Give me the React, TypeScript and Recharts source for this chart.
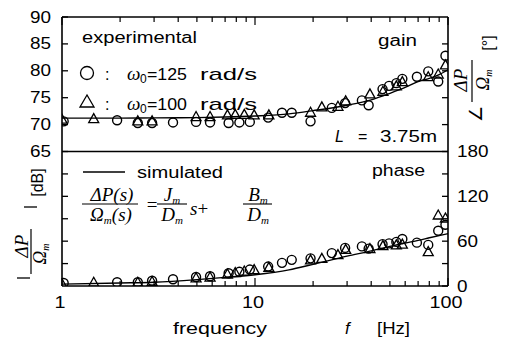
import React from 'react';
import { ComposedChart, XAxis, YAxis, Line, Scatter, ReferenceLine, Customized } from 'recharts';

const W = 501;
const H = 335;
const SANS = "'Liberation Sans', Arial, sans-serif";
const SERIF = "'Liberation Serif', 'Times New Roman', serif";

// axes
const freqTicks = [1, 2, 3, 4, 5, 6, 7, 8, 9, 10, 20, 30, 40, 50, 60, 70, 80, 90, 100];
const freqLabels = [1, 10, 100];
const gainDomain = [40, 90];
const phaseDomain = [0, 360];
const gainTickLabels = [65, 70, 75, 80, 85, 90];
const gainMinorTicks = [70, 75, 80, 85];
const phaseTickLabels = [0, 60, 120, 180];
const phaseAllTicks = [0, 30, 60, 90, 120, 150, 180];

// experimental, omega0 = 125 rad/s (circles)
const circleFreq = [1.02, 1.93, 2.47, 2.93, 3.76, 4.95, 5.85, 7.3, 8.3, 9.4, 11.7, 13.8, 15.5, 19.4, 25, 29.3, 35.8, 38.8, 45.8, 49.5, 54, 58, 69, 79, 89, 97];
const circleGain = [70.6, 70.8, 70.3, 70.3, 70.4, 70.5, 70.4, 70.3, 70.4, 70.5, 71.3, 72.2, 72.2, 70.6, 73.1, 74.0, 74.5, 73.6, 76.6, 77.2, 77.7, 78.5, 78.9, 79.9, 78.0, 82.8];
const circlePhase = [4, 5, 5, 7, 9, 12, 13, 17, 19, 22, 26, 31, 35, 37, 44, 51, 53, 50, 56, 57, 59, 63, 58, 55, 74, 82];

// experimental, omega0 = 100 rad/s (triangles)
const triFreq = [1.0, 1.46, 2.47, 2.93, 4.95, 5.85, 7.2, 7.9, 8.8, 9.9, 11.8, 19.4, 22.2, 26.9, 29.5, 39.4, 46, 54, 58, 79, 89, 97];
const triGain = [71.0, 71.1, 70.7, 70.7, 71.5, 71.5, 71.8, 71.9, 71.9, 71.8, 71.8, 72.3, 73.3, 73.4, 74.4, 75.7, 76.2, 77.2, 78.0, 78.9, 79.4, 81.1];
const triPhase = [3, 5, 5, 6, 11, 12, 16, 18, 20, 22, 25, 35, 37, 42, 49, 50, 54, 55, 56, 46, 95, 91];

// simulated
const simFreq = [1, 2, 3, 5, 7, 10, 15, 20, 30, 40, 50, 60, 70, 80, 90, 100];
const simGain = [71.2, 71.2, 71.25, 71.3, 71.4, 71.6, 72.0, 72.6, 73.6, 74.6, 75.8, 76.9, 78.0, 78.6, 79.3, 80.2];
const simPhase = [2.5, 4, 5, 8.5, 11.5, 15, 21.5, 29, 40, 47, 53, 57.5, 61, 64.5, 67.5, 70];

const zipG = (f: number[], g: number[]) => f.map((x, i) => ({ f: x, g: g[i] }));
const zipP = (f: number[], p: number[]) => f.map((x, i) => ({ f: x, p: p[i] }));

const circleGainData = zipG(circleFreq, circleGain);
const circlePhaseData = zipP(circleFreq, circlePhase);
const triGainData = zipG(triFreq, triGain);
const triPhaseData = zipP(triFreq, triPhase);
const simGainData = zipG(simFreq, simGain);
const simPhaseData = zipP(simFreq, simPhase);

const gSpan = gainDomain[1] - gainDomain[0];
const pSpan = phaseDomain[1] - phaseDomain[0];
const leftTicks = [
  ...phaseAllTicks.filter((p) => p > 0 && p < 180).map((p) => gainDomain[0] + (p - phaseDomain[0]) * gSpan / pSpan),
  ...gainTickLabels,
];
const rightTicks = [
  ...phaseAllTicks,
  ...gainMinorTicks.map((g) => phaseDomain[0] + (g - gainDomain[0]) * pSpan / gSpan),
];

const STROKE = '#000';

const LeftTick = (props: any) => {
  const { x, y, payload } = props;
  const v = payload.value;
  const lab = gainTickLabels.includes(v);
  return (
    <g>
      <line x1={x} x2={x + 6} y1={y} y2={y} stroke={STROKE} strokeWidth={1.3} />
      {lab && (
        <text x={x - 11} y={y + 5.5} textAnchor="end" fontFamily={SANS} fontSize={16} fill="#000"
          textLength={String(v).length * 10.5} lengthAdjust="spacingAndGlyphs">{v}</text>
      )}
    </g>
  );
};

const RightTick = (props: any) => {
  const { x, y, payload } = props;
  const v = payload.value;
  const lab = phaseTickLabels.includes(v);
  return (
    <g>
      <line x1={x} x2={x - 6} y1={y} y2={y} stroke={STROKE} strokeWidth={1.3} />
      {lab && (
        <text x={x + 9} y={y + 5.5} textAnchor="start" fontFamily={SANS} fontSize={16} fill="#000"
          textLength={String(v).length * 10.5} lengthAdjust="spacingAndGlyphs">{v}</text>
      )}
    </g>
  );
};

const BottomTick = (props: any) => {
  const { x, y, payload } = props;
  const v = payload.value;
  const major = freqLabels.includes(v);
  return (
    <g>
      <line x1={x} x2={x} y1={y} y2={y - (major ? 8 : 5)} stroke={STROKE} strokeWidth={1.2} />
      {major && (
        <text x={x - 2} y={y + 22} textAnchor="middle" fontFamily={SANS} fontSize={16} fill="#000"
          textLength={String(v).length * 11} lengthAdjust="spacingAndGlyphs">{v}</text>
      )}
    </g>
  );
};

const TopTick = (props: any) => {
  const { x, y, payload } = props;
  const major = freqLabels.includes(payload.value);
  return <line x1={x} x2={x} y1={y} y2={y + (major ? 8 : 5)} stroke={STROKE} strokeWidth={1.2} />;
};

const CircleShape = (p: any) => (
  <circle cx={p.cx} cy={p.cy} r={4.5} fill="none" stroke={STROKE} strokeWidth={1.4} />
);
const TriShape = (p: any) => (
  <polygon points={`${p.cx},${p.cy - 5} ${p.cx - 5},${p.cy + 4} ${p.cx + 5},${p.cy + 4}`} fill="none" stroke={STROKE} strokeWidth={1.3} />
);

const sansT = { fontFamily: SANS, fontSize: 16, fill: '#000' } as const;
const serifT = { fontFamily: SERIF, fontSize: 19, fontStyle: 'italic', fill: '#000' } as const;

const Annotations = () => (
  <g>
    {/* legend */}
    <text x={74} y={35} {...sansT} textLength={115} lengthAdjust="spacingAndGlyphs">experimental</text>
    <circle cx={79} cy={65} r={6.5} fill="none" stroke={STROKE} strokeWidth={1.3} />
    <text x={97} y={72} {...sansT}>:</text>
    <text x={119} y={72} {...serifT} fontSize={19}>ω</text>
    <text x={132} y={75} {...sansT} fontSize={12}>0</text>
    <text x={139} y={72} {...sansT} fontSize={17} textLength={40} lengthAdjust="spacingAndGlyphs">=125</text>
    <text x={192} y={72} {...sansT} fontSize={17} textLength={57} lengthAdjust="spacingAndGlyphs">rad/s</text>

    <polygon points="79,87 72,99 86,99" fill="none" stroke={STROKE} strokeWidth={1.3} />
    <text x={97} y={102} {...sansT}>:</text>
    <text x={119} y={102} {...serifT} fontSize={19}>ω</text>
    <text x={132} y={105} {...sansT} fontSize={12}>0</text>
    <text x={139} y={102} {...sansT} fontSize={17} textLength={40} lengthAdjust="spacingAndGlyphs">=100</text>
    <text x={192} y={102} {...sansT} fontSize={17} textLength={57} lengthAdjust="spacingAndGlyphs">rad/s</text>

    <text x={370} y={38} {...sansT} textLength={39} lengthAdjust="spacingAndGlyphs">gain</text>
    <text x={327} y={134} {...sansT} fontStyle="italic">L</text>
    <text x={350} y={134} {...sansT}>=</text>
    <text x={372} y={134} {...sansT} textLength={57} lengthAdjust="spacingAndGlyphs">3.75m</text>

    <line x1={75} x2={117} y1={164} y2={164} stroke={STROKE} strokeWidth={1.4} />
    <text x={129} y={170} {...sansT} textLength={86} lengthAdjust="spacingAndGlyphs">simulated</text>
    <text x={364} y={168} {...sansT} textLength={53} lengthAdjust="spacingAndGlyphs">phase</text>

    {/* equation */}
    <text x={104} y={193} {...serifT} textAnchor="middle">ΔP(s)</text>
    <line x1={74} x2={130} y1={196} y2={196} stroke={STROKE} strokeWidth={1.1} />
    <text x={103} y={213} {...serifT} textAnchor="middle">Ω<tspan fontSize={11} dy={3}>m</tspan><tspan dy={-3}>(s)</tspan></text>
    <text x={144} y={203} {...serifT} fontStyle="normal" textAnchor="middle">=</text>
    <text x={164} y={193} {...serifT} textAnchor="middle">J<tspan fontSize={11} dy={3}>m</tspan></text>
    <line x1={149} x2={179} y1={196} y2={196} stroke={STROKE} strokeWidth={1.1} />
    <text x={164} y={213} {...serifT} textAnchor="middle">D<tspan fontSize={11} dy={3}>m</tspan></text>
    <text x={182} y={207} {...serifT}>s<tspan fontStyle="normal">+</tspan></text>
    <text x={250} y={193} {...serifT} textAnchor="middle">B<tspan fontSize={11} dy={3}>m</tspan></text>
    <line x1={235} x2={264} y1={196} y2={196} stroke={STROKE} strokeWidth={1.1} />
    <text x={250} y={213} {...serifT} textAnchor="middle">D<tspan fontSize={11} dy={3}>m</tspan></text>

    {/* x label */}
    <text x={165} y={326} {...sansT} fontSize={17} textLength={94} lengthAdjust="spacingAndGlyphs">frequency</text>
    <text x={337} y={326} {...sansT} fontSize={17} fontStyle="italic">f</text>
    <text x={369} y={326} {...sansT} fontSize={17} textLength={33} lengthAdjust="spacingAndGlyphs">[Hz]</text>

    {/* left y label (rotated) */}
    <text transform="translate(35,174.5) rotate(-90)" {...sansT} textAnchor="middle">[dB]</text>
    <line x1={16} x2={29} y1={199} y2={199} stroke={STROKE} strokeWidth={1.3} />
    <text transform="translate(20,238) rotate(-90)" {...serifT} textAnchor="middle">ΔP</text>
    <line x1={23} x2={23} y1={221} y2={266} stroke={STROKE} strokeWidth={1.2} />
    <text transform="translate(38,246) rotate(-90)" {...serifT} textAnchor="middle">Ω<tspan fontSize={10} dy={3}>m</tspan></text>
    <line x1={9} x2={22} y1={270} y2={270} stroke={STROKE} strokeWidth={1.3} />

    {/* right y label (rotated) */}
    <text transform="translate(474,106) rotate(-90)" {...sansT} fontSize={18} textAnchor="middle">∠</text>
    <text transform="translate(459,72) rotate(-90)" {...serifT} textAnchor="middle">ΔP</text>
    <line x1={464} x2={464} y1={52} y2={94} stroke={STROKE} strokeWidth={1.2} />
    <text transform="translate(481,72) rotate(-90)" {...serifT} textAnchor="middle">Ω<tspan fontSize={10} dy={3}>m</tspan></text>
    <text transform="translate(486,35) rotate(-90)" {...sansT} textAnchor="middle">[°]</text>
  </g>
);

export default function App() {
  return (
    <ComposedChart width={W} height={H} margin={{ top: 0, right: 0, bottom: 0, left: 0 }}>
      <XAxis xAxisId="b" dataKey="f" type="number" scale="log" domain={[1, 100]} allowDataOverflow
        ticks={freqTicks} interval={0} tick={BottomTick} tickLine={false} tickSize={0} tickMargin={0}
        height={57} axisLine={{ stroke: STROKE, strokeWidth: 1.6 }} />
      <XAxis xAxisId="t" dataKey="f" orientation="top" type="number" scale="log" domain={[1, 100]} allowDataOverflow
        ticks={freqTicks} interval={0} tick={TopTick} tickLine={false} tickSize={0} tickMargin={0}
        height={9} axisLine={{ stroke: STROKE, strokeWidth: 1.6 }} />
      <YAxis yAxisId="g" type="number" domain={gainDomain} allowDataOverflow ticks={leftTicks} interval={0}
        tick={LeftTick} tickLine={false} tickSize={0} tickMargin={0} width={54}
        axisLine={{ stroke: STROKE, strokeWidth: 1.6 }} />
      <YAxis yAxisId="p" orientation="right" type="number" domain={phaseDomain} allowDataOverflow ticks={rightTicks} interval={0}
        tick={RightTick} tickLine={false} tickSize={0} tickMargin={0} width={61}
        axisLine={{ stroke: STROKE, strokeWidth: 1.6 }} />

      <ReferenceLine yAxisId="g" xAxisId="b" y={65} stroke={STROKE} strokeWidth={1.6} />

      <Line xAxisId="b" yAxisId="g" data={simGainData} dataKey="g" type="monotone" dot={false}
        stroke={STROKE} strokeWidth={1.4} isAnimationActive={false} />
      <Line xAxisId="b" yAxisId="p" data={simPhaseData} dataKey="p" type="monotone" dot={false}
        stroke={STROKE} strokeWidth={1.4} isAnimationActive={false} />

      <Scatter xAxisId="b" yAxisId="g" data={circleGainData} dataKey="g" shape={CircleShape} isAnimationActive={false} />
      <Scatter xAxisId="b" yAxisId="g" data={triGainData} dataKey="g" shape={TriShape} isAnimationActive={false} />
      <Scatter xAxisId="b" yAxisId="p" data={circlePhaseData} dataKey="p" shape={CircleShape} isAnimationActive={false} />
      <Scatter xAxisId="b" yAxisId="p" data={triPhaseData} dataKey="p" shape={TriShape} isAnimationActive={false} />

      <Customized component={Annotations} />
    </ComposedChart>
  );
}
